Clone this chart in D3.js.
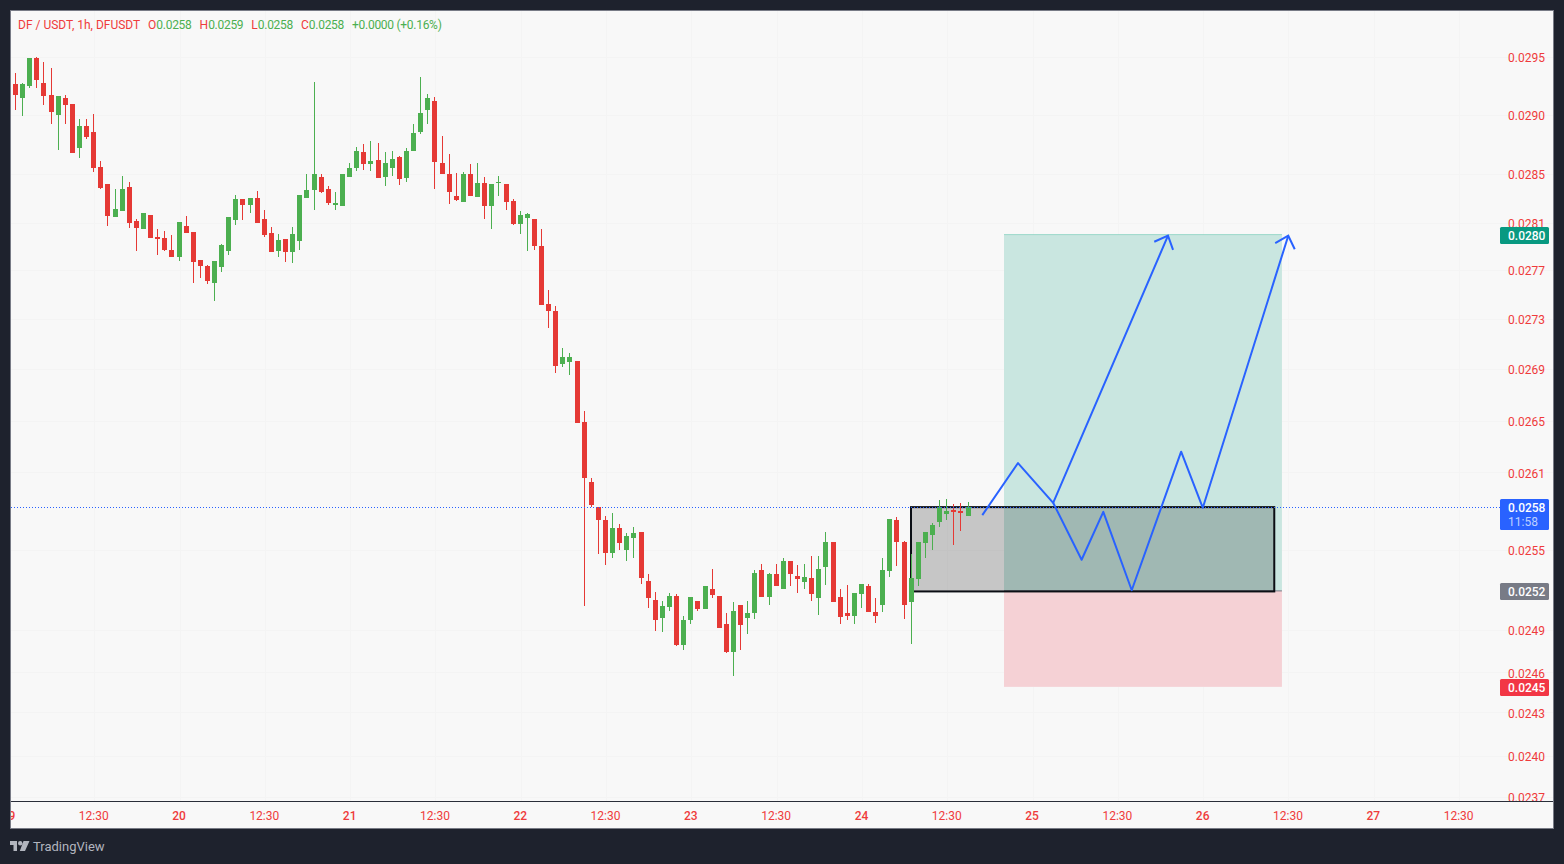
<!DOCTYPE html>
<html>
<head>
<meta charset="utf-8">
<title>DF / USDT, 1h</title>
<script src="https://d3js.org/d3.v7.min.js"></script>
<style>
  body { margin: 0; background: #1e222d; }
  svg { display: block; }
  text { font-family: Roboto, sans-serif; font-size: 12px; }
</style>
</head>
<body>
<div id="chart"></div>
<script>
// candles, prices in millionths of a USDT
var opens = [
  29230,29265,29144,29248,29491,29274,29170,28998,29144,29093,28717,28904,
  28853,28556,28412,28136,28186,28387,28103,28036,28153,27970,27962,27863,
  27805,28061,28012,27781,27731,27592,27723,27855,28111,28286,28236,28295,
  28119,28003,27855,27954,27847,27937,28295,28362,28471,28370,28236,28227,
  28471,28547,28683,28581,28615,28471,28547,28640,28463,28691,28853,29041,
  29119,28589,28496,28312,28261,28496,28303,28421,28227,28421,28412,28269,
  28078,28128,28119,27896,27421,27365,26938,26954,26962,26480,26014,25822,
  25723,25473,25662,25496,25586,25632,25263,25121,24988,25069,25151,24789,
  24973,25113,25054,25203,25151,24943,24738,25084,24988,25025,25346,25143,
  25316,25203,25413,25301,25256,25286,25136,25368,25556,25143,25025,25003,
  25166,25225,25032,25084,25338,25723,25556,25106,25278,25549,25609,25708,
  25769,25799,25792,25754
];
var highs = [
  29300,29361,29274,29491,29500,29457,29404,29162,29170,29093,28964,28964,
  29007,28606,28412,28370,28479,28429,28119,28169,28153,28036,28020,27987,
  28095,28144,28012,27781,27739,27772,27912,28136,28320,28286,28295,28353,
  28194,28053,27995,27954,28053,28320,28496,29283,28496,28395,28345,28496,
  28589,28725,28751,28776,28759,28683,28691,28649,28717,28921,29326,29179,
  29153,28819,28666,28505,28513,28581,28589,28471,28412,28479,28412,28286,
  28186,28169,28119,28036,27535,27405,27066,27026,26962,26566,26044,25822,
  25754,25776,25693,25624,25670,25632,25316,25181,25113,25173,25166,25003,
  25143,25113,25225,25353,25151,25025,25106,25084,25113,25346,25391,25323,
  25391,25436,25413,25383,25391,25451,25451,25632,25556,25203,25233,25173,
  25241,25241,25136,25436,25731,25746,25564,25466,25556,25632,25700,25876,
  25883,25845,25853,25860
];
var lows = [
  29230,29041,28990,29230,29230,29084,28921,28700,28921,28674,28632,28793,
  28513,28370,28061,28136,28186,28045,27855,28036,27962,27822,27855,27805,
  27772,28003,27592,27633,27584,27446,27682,27822,28070,28111,28169,28086,
  27970,27847,27805,27764,27756,27863,28295,28194,28337,28236,28194,28227,
  28471,28522,28530,28522,28463,28395,28479,28404,28429,28691,28836,28921,
  28370,28496,28244,28269,28261,28312,28303,28119,28036,28312,28194,28070,
  27995,27855,27863,27413,27227,26866,26914,26850,26472,25076,25822,25466,
  25383,25436,25496,25413,25436,25241,25062,24892,24884,25039,24782,24752,
  24943,25039,25054,25136,24914,24730,24563,24752,24870,24981,25143,25084,
  25225,25203,25225,25173,25203,25113,25010,25233,25106,24943,24973,24943,
  25062,25032,24951,25032,25293,25375,24981,24796,25225,25436,25496,25670,
  25723,25534,25640,25754
];
var closes = [
  29300,29170,29265,29491,29300,29162,29024,29162,29084,28674,28904,28810,
  28547,28379,28144,28202,28370,28086,28045,28169,27962,27954,27863,27805,
  28095,28003,27764,27731,27608,27772,27904,28136,28286,28236,28295,28086,
  27987,27847,27945,27847,27995,28320,28362,28496,28345,28252,28252,28496,
  28547,28691,28581,28606,28463,28589,28623,28454,28691,28844,29015,29144,
  28598,28496,28345,28278,28496,28312,28421,28227,28412,28429,28261,28078,
  28153,28161,27896,27413,27365,26922,26994,26994,26472,26044,25837,25723,
  25473,25662,25549,25602,25624,25286,25136,24973,25076,25151,24789,24973,
  25143,25054,25225,25158,24914,24738,25039,24936,25025,25323,25143,25316,
  25225,25413,25316,25278,25293,25166,25353,25556,25106,24995,25003,25173,
  25241,25032,25003,25346,25731,25556,25084,25286,25556,25632,25685,25822,
  25792,25784,25776,25822
];

// axis ticks
var priceTicks = [0.0295,0.0290,0.0285,0.02809,0.0277,0.0273,0.0269,0.02649,0.02609,0.0255,0.0249,0.02459,0.0243,0.02399,0.0237];
var timeTicks = [0,12,24,36,48,60,72,84,96,108,120,132,144,156,168,180,192,204];
var timeLabels = ["19","12:30","20","12:30","21","12:30","22","12:30","23","12:30","24","12:30","25","12:30","26","12:30","27","12:30"];

// drawings on the chart, [candle index, price]
var arrowOne = [[136.93,0.025761],[141.95,0.026161],[146.9,0.025855],[163.05,0.027981]];
var arrowTwo = [[146.9,0.025855],[150.9,0.025423],[153.95,0.025786],[157.95,0.025195],[164.9,0.026249],[167.95,0.025817],[179.97,0.027981]];
var targetPrice = 0.02799;
var entryPrice = 0.02519;
var stopPrice = 0.024485;
var positionStart = 139.98;
var positionEnd = 179.08;
var boxStart = 126.9;
var boxEnd = 178.0;
var boxTop = 0.025822;
var boxBottom = 0.025186;
var lastPrice = 0.025822;

var svgWidth = 1564;
var svgHeight = 864;
var panel = { left: 11, top: 11, right: 1553, bottom: 828 };
var axisY = 801;

var red = "#e53935";
var green = "#4caf50";
var labelRed = "#ef3b3b";
var blue = "#2962ff";

var xScale = d3.scaleLinear().domain([0, 216]).range([8.9, 1544.4]);
var yScale = d3.scaleLog().domain([0.0237, 0.0295]).range([797, 57]);

var svg = d3.select("#chart")
    .append("svg")
    .attr("width", svgWidth)
    .attr("height", svgHeight);

var defs = svg.append("defs");
defs.append("clipPath").attr("id", "plotClip")
    .append("rect")
    .attr("x", panel.left)
    .attr("y", panel.top)
    .attr("width", panel.right - panel.left)
    .attr("height", axisY - panel.top);
defs.append("clipPath").attr("id", "xClip")
    .append("rect")
    .attr("x", panel.left + 1)
    .attr("y", 0)
    .attr("width", panel.right - panel.left)
    .attr("height", panel.bottom - axisY);

svg.append("rect")
    .attr("x", panel.left - 0.5)
    .attr("y", panel.top - 0.5)
    .attr("width", panel.right - panel.left + 1)
    .attr("height", panel.bottom - panel.top + 1)
    .attr("fill", "#f8f8f8")
    .attr("stroke", "#787b86");

var plot = svg.append("g").attr("clip-path", "url(#plotClip)");

// grid
plot.selectAll("line.hgrid")
    .data(priceTicks)
    .enter()
    .append("line")
    .attr("class", "hgrid")
    .attr("x1", panel.left)
    .attr("x2", panel.right)
    .attr("y1", d => Math.round(yScale(d)) + 0.5)
    .attr("y2", d => Math.round(yScale(d)) + 0.5)
    .attr("stroke", "#f4f4f4");

plot.selectAll("line.vgrid")
    .data(timeTicks)
    .enter()
    .append("line")
    .attr("class", "vgrid")
    .attr("x1", d => Math.round(xScale(d)) + 0.5)
    .attr("x2", d => Math.round(xScale(d)) + 0.5)
    .attr("y1", panel.top)
    .attr("y2", axisY)
    .attr("stroke", "#f4f4f4");

// long position tool
plot.append("rect")
    .attr("x", xScale(positionStart))
    .attr("y", yScale(targetPrice))
    .attr("width", xScale(positionEnd) - xScale(positionStart))
    .attr("height", yScale(entryPrice) - yScale(targetPrice))
    .attr("fill", "#c9e6e0");
plot.append("line")
    .attr("x1", xScale(positionStart))
    .attr("x2", xScale(positionEnd))
    .attr("y1", yScale(targetPrice))
    .attr("y2", yScale(targetPrice))
    .attr("stroke", "#9ad8c9");
plot.append("rect")
    .attr("x", xScale(positionStart))
    .attr("y", yScale(entryPrice))
    .attr("width", xScale(positionEnd) - xScale(positionStart))
    .attr("height", yScale(stopPrice) - yScale(entryPrice))
    .attr("fill", "#f5d1d5");
plot.append("line")
    .attr("x1", xScale(positionStart))
    .attr("x2", xScale(positionEnd))
    .attr("y1", yScale(entryPrice))
    .attr("y2", yScale(entryPrice))
    .attr("stroke", "#787b86");

// grey entry box
plot.append("rect")
    .attr("x", xScale(boxStart))
    .attr("y", yScale(boxTop))
    .attr("width", xScale(boxEnd) - xScale(boxStart))
    .attr("height", yScale(boxBottom) - yScale(boxTop))
    .attr("fill", "#000")
    .attr("fill-opacity", 0.2)
    .attr("stroke", "#0b0e14")
    .attr("stroke-width", 2);

// candles
var candles = plot.selectAll("g.candle")
    .data(opens)
    .enter()
    .append("g")
    .attr("class", "candle")
    .attr("fill", (d, i) => closes[i] >= opens[i] ? green : red);

candles.append("rect")
    .attr("x", (d, i) => Math.round(xScale(i) - 1))
    .attr("width", 1)
    .attr("y", (d, i) => Math.round(yScale(highs[i] / 1e6)))
    .attr("height", (d, i) => Math.round(yScale(lows[i] / 1e6)) - Math.round(yScale(highs[i] / 1e6)));

candles.append("rect")
    .attr("x", (d, i) => Math.round(xScale(i) - 1) - 2)
    .attr("width", 5)
    .attr("y", (d, i) => Math.round(yScale(Math.max(opens[i], closes[i]) / 1e6)))
    .attr("height", (d, i) => Math.max(1, Math.round(yScale(Math.min(opens[i], closes[i]) / 1e6)) - Math.round(yScale(Math.max(opens[i], closes[i]) / 1e6))));

// last price line
plot.append("line")
    .attr("x1", panel.left)
    .attr("x2", 1500)
    .attr("y1", Math.round(yScale(lastPrice)) + 0.5)
    .attr("y2", Math.round(yScale(lastPrice)) + 0.5)
    .attr("stroke", blue)
    .attr("stroke-dasharray", "1,2");

// hand drawn arrows
var pathLine = d3.line()
    .x(d => xScale(d[0]))
    .y(d => yScale(d[1]));

function drawArrow(points) {
    plot.append("path")
        .attr("d", pathLine(points))
        .attr("fill", "none")
        .attr("stroke", blue)
        .attr("stroke-width", 2)
        .attr("stroke-linejoin", "round");

    var tip = points[points.length - 1];
    var prev = points[points.length - 2];
    var tx = xScale(tip[0]), ty = yScale(tip[1]);
    var angle = Math.atan2(yScale(prev[1]) - ty, xScale(prev[0]) - tx);
    var spread = 43 * Math.PI / 180;
    var head = [angle - spread, angle + spread].map(a => [tx + 15 * Math.cos(a), ty + 15 * Math.sin(a)]);

    plot.append("path")
        .attr("d", d3.line()([head[0], [tx, ty], head[1]]))
        .attr("fill", "none")
        .attr("stroke", blue)
        .attr("stroke-width", 2);
}
drawArrow(arrowOne);
drawArrow(arrowTwo);

// price axis, the time axis strip cuts the bottom label
var rightAxis = d3.axisRight(yScale)
    .tickValues(priceTicks)
    .tickFormat(d => d.toFixed(4))
    .tickSize(0)
    .tickPadding(0);

var yAxis = plot.append("g")
    .attr("transform", "translate(1508,1)")
    .call(rightAxis);
yAxis.select(".domain").remove();
yAxis.selectAll("text")
    .attr("fill", labelRed)
    .style("font-family", "Roboto, sans-serif")
    .style("font-size", "12px");

// time axis
var bottomAxis = d3.axisBottom(xScale)
    .tickValues(timeTicks)
    .tickFormat((d, i) => timeLabels[i])
    .tickSize(0)
    .tickPadding(10);

var xAxis = svg.append("g")
    .attr("transform", `translate(-1,${axisY})`)
    .attr("clip-path", "url(#xClip)")
    .call(bottomAxis);
xAxis.select(".domain").remove();
xAxis.selectAll("text")
    .attr("fill", labelRed)
    .style("font-family", "Roboto, sans-serif")
    .style("font-size", "12px")
    .style("font-weight", (d, i) => i % 2 === 0 ? 500 : 400);

svg.append("line")
    .attr("x1", panel.left)
    .attr("x2", panel.right)
    .attr("y1", axisY + 0.5)
    .attr("y2", axisY + 0.5)
    .attr("stroke", "#2a2e39");

// price badges
var badges = [
    { price: targetPrice, label: "0.0280", color: "#089981" },
    { price: boxBottom, label: "0.0252", color: "#787b86" },
    { price: stopPrice, label: "0.0245", color: "#f23645" }
];
var badgeGroups = svg.selectAll("g.badge")
    .data(badges)
    .enter()
    .append("g")
    .attr("class", "badge")
    .attr("transform", d => `translate(1500,${Math.round(yScale(d.price))})`);
badgeGroups.append("rect")
    .attr("y", -8)
    .attr("width", 49)
    .attr("height", 17)
    .attr("rx", 1.5)
    .attr("fill", d => d.color);
badgeGroups.append("text")
    .attr("x", 8)
    .attr("y", 5)
    .attr("fill", "#fff")
    .style("font-weight", 500)
    .text(d => d.label);

var lastY = Math.round(yScale(lastPrice));
svg.append("rect")
    .attr("x", 1500)
    .attr("y", lastY - 8)
    .attr("width", 49)
    .attr("height", 31)
    .attr("rx", 1.5)
    .attr("fill", blue);
svg.append("text")
    .attr("x", 1508)
    .attr("y", lastY + 5)
    .attr("fill", "#fff")
    .style("font-weight", 500)
    .text(lastPrice.toFixed(4));
svg.append("text")
    .attr("x", 1508)
    .attr("y", lastY + 18.5)
    .attr("fill", "#bed0ff")
    .text("11:58");

// legend line at the top
var headerParts = [
    ["DF / USDT, 1h, DFUSDT", labelRed, 0],
    ["O", labelRed, 8], ["0.0258", green, 0],
    ["H", labelRed, 8], ["0.0259", green, 0],
    ["L", labelRed, 8], ["0.0258", green, 0],
    ["C", labelRed, 8], ["0.0258", green, 0],
    ["+0.0000 (+0.16%)", green, 8]
];
svg.append("text")
    .attr("x", 18)
    .attr("y", 29)
    .selectAll("tspan")
    .data(headerParts)
    .enter()
    .append("tspan")
    .attr("dx", d => d[2])
    .attr("fill", d => d[1])
    .style("letter-spacing", d => d[1] === green ? "-0.28px" : "0")
    .text(d => d[0]);

// TradingView mark in the footer
svg.append("path")
    .attr("d", "M10 841H17V851H13.5V845H10ZM18 843.2a2.2 2.2 0 1 0 4.4 0a2.2 2.2 0 1 0 -4.4 0ZM23.5 841H29.5L25 851H19.8Z")
    .attr("fill", "#b2b5be");
svg.append("text")
    .attr("x", 33)
    .attr("y", 851)
    .attr("fill", "#b2b5be")
    .style("font-size", "13px")
    .text("TradingView");
</script>
</body>
</html>
